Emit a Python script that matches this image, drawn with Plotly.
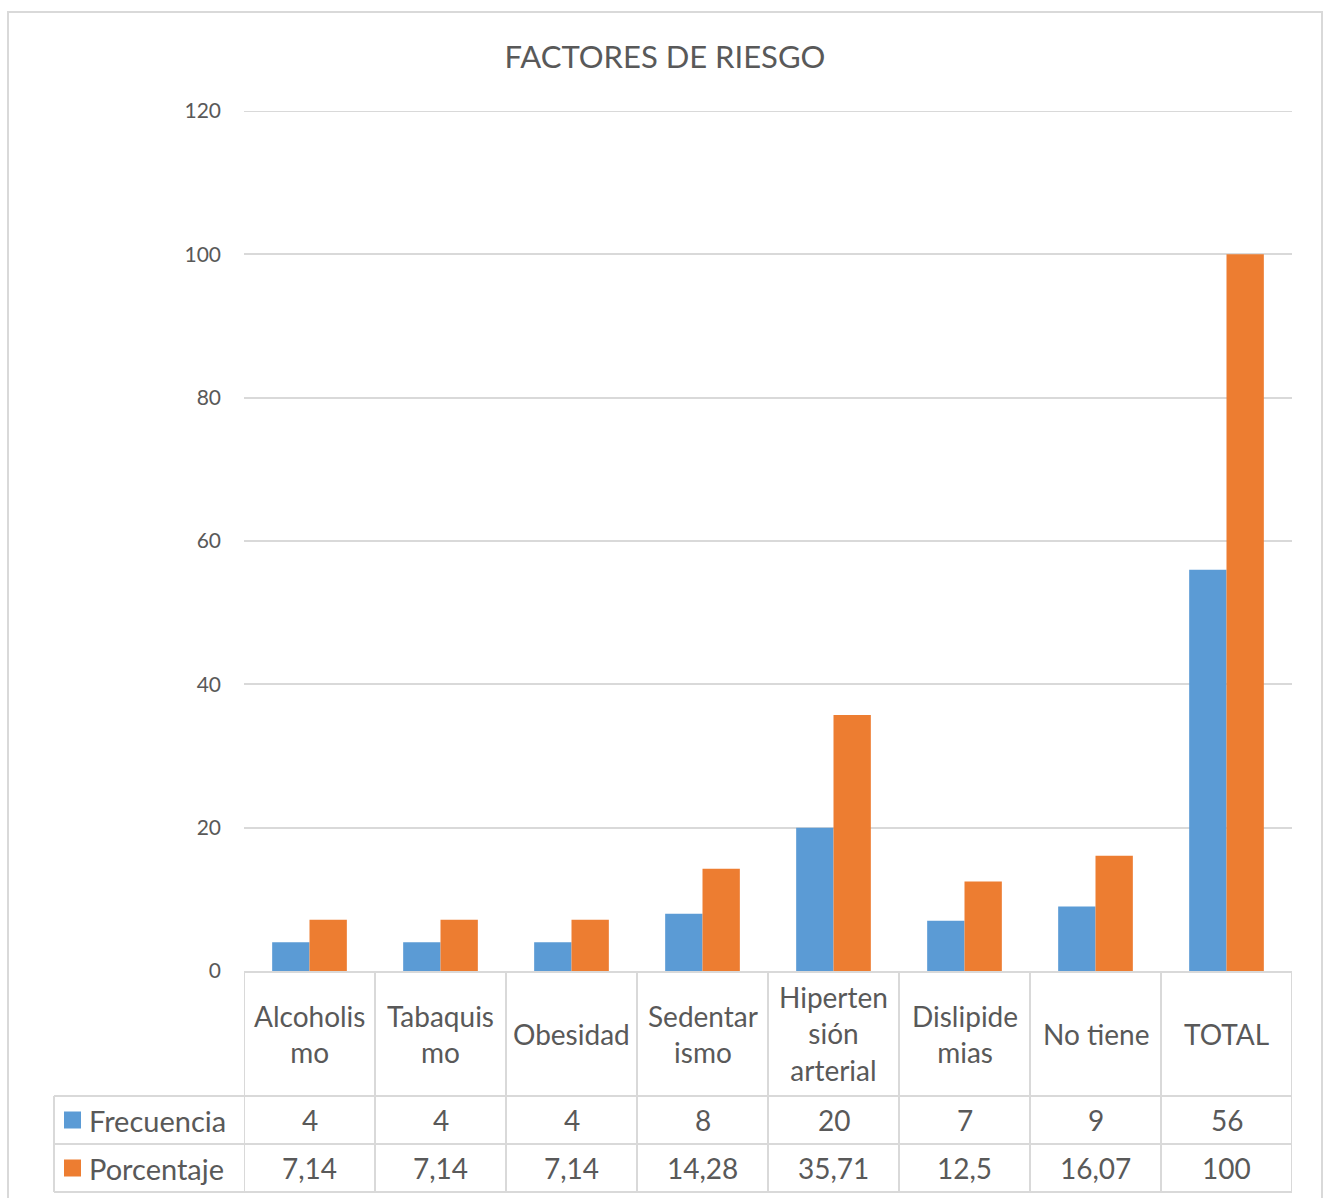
import plotly.graph_objects as go

categories = ["Alcoholismo", "Tabaquismo", "Obesidad", "Sedentarismo",
              "Hipertensión arterial", "Dislipidemias", "No tiene", "TOTAL"]
cat_labels = ["Alcoholis<br>mo", "Tabaquis<br>mo", "Obesidad", "Sedentar<br>ismo",
              "Hiperten<br>sión<br>arterial", "Dislipide<br>mias", "No tiene", "TOTAL"]
frecuencia = [4, 4, 4, 8, 20, 7, 9, 56]
porcentaje = [7.14, 7.14, 7.14, 14.28, 35.71, 12.5, 16.07, 100]
series_names = ["Frecuencia", "Porcentaje"]
colors = ["#5B9BD5", "#ED7D31"]
y_ticks = [0, 20, 40, 60, 80, 100, 120]

FONT = "Lato, 'Open Sans', sans-serif"
TXT = "#595959"
GRID = "#D9D9D9"

W, H = 1325, 1198
L, R, T, B = 244, 1325 - 1292, 111, 1198 - 971
ph = H - T - B
pw = W - L - R

def py(Y):
    return (H - B - Y) / ph

def px(X):
    return (X - L) / pw

def fmt(v):
    return ("%g" % v).replace(".", ",")

fig = go.Figure()
for name, vals, c in zip(series_names, [frecuencia, porcentaje], colors):
    fig.add_trace(go.Bar(x=categories, y=vals, name=name, marker=dict(color=c, line=dict(width=0)),
                         showlegend=False))

shapes = []
annotations = []
y_hdr = py(1096)
y_r1 = py(1144)
y_r2 = py(1192)
x_left = px(54)

# outer chart border
shapes.append(dict(type="rect", xref="paper", yref="paper", x0=px(8), x1=px(1322),
                   y0=py(1205), y1=py(12), line=dict(color=GRID, width=2),
                   fillcolor="rgba(0,0,0,0)", layer="below"))

# top gridline
shapes.append(dict(type="line", xref="paper", yref="y", x0=0, x1=1, y0=y_ticks[-1], y1=y_ticks[-1],
                   line=dict(color=GRID, width=2), layer="below"))

# vertical table lines at category boundaries
for i in range(len(categories) + 1):
    shapes.append(dict(type="line", xref="x", yref="paper", x0=i - 0.5, x1=i - 0.5,
                       y0=0, y1=y_r2, line=dict(color=GRID, width=2)))
shapes.append(dict(type="line", xref="paper", yref="paper", x0=x_left, x1=x_left,
                   y0=y_hdr, y1=y_r2, line=dict(color=GRID, width=2)))
for yy in [y_hdr, y_r1, y_r2]:
    shapes.append(dict(type="line", xref="paper", yref="paper", x0=x_left, x1=1,
                       y0=yy, y1=yy, line=dict(color=GRID, width=2)))

for cat, lab in zip(categories, cat_labels):
    annotations.append(dict(x=cat, y=(0 + y_hdr) / 2, xref="x", yref="paper", text=lab,
                            showarrow=False, font=dict(family=FONT, size=28, color=TXT),
                            xanchor="center", yanchor="middle", align="center"))

rows = [frecuencia, porcentaje]
row_centers = [(y_hdr + y_r1) / 2, (y_r1 + y_r2) / 2]
for name, vals, c, yc in zip(series_names, rows, colors, row_centers):
    for cat, v in zip(categories, vals):
        annotations.append(dict(x=cat, y=yc, xref="x", yref="paper", text=fmt(v),
                                showarrow=False, font=dict(family=FONT, size=28, color=TXT),
                                xanchor="center", yanchor="middle"))
    sq = 17 / ph
    shapes.append(dict(type="rect", xref="paper", yref="paper", x0=px(64), x1=px(81),
                       y0=yc - sq / 2, y1=yc + sq / 2, fillcolor=c, line=dict(width=0)))
    annotations.append(dict(x=px(87), y=yc, xref="paper", yref="paper", text=name,
                            showarrow=False, font=dict(family=FONT, size=29, color=TXT),
                            xanchor="left", yanchor="middle"))

fig.update_layout(
    width=W, height=H,
    margin=dict(l=L, r=R, t=T, b=B, pad=0),
    paper_bgcolor="white", plot_bgcolor="white",
    barmode="group", bargap=0.43, bargroupgap=0,
    title=dict(text="FACTORES DE RIESGO", x=(665 / W), xanchor="center", y=1 - 57 / H, yanchor="middle",
               font=dict(family=FONT, size=31, color=TXT)),
    xaxis=dict(showticklabels=False, showline=True, linecolor=GRID, linewidth=2,
               showgrid=False, ticks="", range=[-0.5, len(categories) - 0.5]),
    yaxis=dict(range=[0, 120], tickvals=y_ticks, showgrid=True, gridcolor=GRID, gridwidth=2,
               zeroline=False, showline=False, ticks="", ticklabelstandoff=22,
               tickfont=dict(family=FONT, size=21, color=TXT)),
    shapes=shapes, annotations=annotations,
)

fig.write_html("out.html", config={"displayModeBar": False},
               post_script="document.body.style.margin='0px';")
